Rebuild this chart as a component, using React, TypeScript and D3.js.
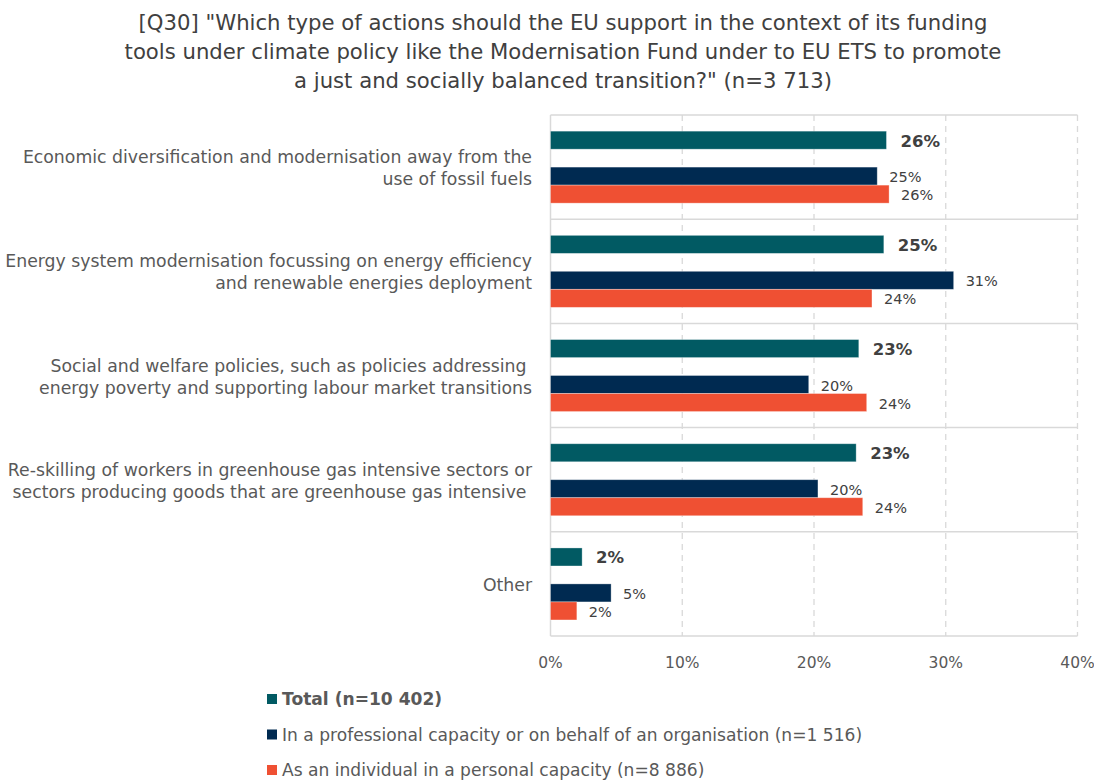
import React from "react";
import * as d3 from "d3";

const titleLines = [
  "[Q30] \"Which type of actions should the EU support in the context of its funding",
  "tools under climate policy like the Modernisation Fund under to EU ETS to promote",
  "a just and socially balanced transition?\" (n=3 713)",
];

const categories = ["econ", "energy", "social", "reskill", "other"];
const categoryLabels = [
  ["Economic diversification and modernisation away from the", "use of fossil fuels"],
  ["Energy system modernisation focussing on energy efficiency", "and renewable energies deployment"],
  ["Social and welfare policies, such as policies addressing\u00A0", "energy poverty and supporting labour market transitions"],
  ["Re-skilling of workers in greenhouse gas intensive sectors or", "sectors producing goods that are greenhouse gas intensive\u00A0"],
  ["Other"],
];

const totalValues = [25.5, 25.3, 23.4, 23.2, 2.4];
const professionalValues = [24.8, 30.6, 19.6, 20.3, 4.6];
const individualValues = [25.7, 24.4, 24.0, 23.7, 2.0];

const xTicks = [0, 10, 20, 30, 40];

const seriesNames = [
  "Total (n=10 402)",
  "In a professional capacity or on behalf of an organisation (n=1 516)",
  "As an individual in a personal capacity (n=8 886)",
];
const seriesColors = ["#015A63", "#002A51", "#EF5033"];

const FONT = "'DejaVu Sans', sans-serif";

export default function App() {
  const W = 1094;
  const H = 781;
  const x = d3.scaleLinear().domain([0, 40]).range([550.5, 1077.5]);
  const y = d3.scaleBand().domain(categories).range([115, 636]).padding(0);
  const bw = y.bandwidth();
  const barH = bw * 0.173;
  const totalOff = bw * 0.155;
  const profOff = bw * 0.5;
  const indOff = profOff + barH;

  return (
    <svg
      width={W}
      height={H}
      style={{ position: "absolute", left: 0, top: 0, background: "#fff" }}
      fontFamily={FONT}
    >
      {/* title */}
      {titleLines.map((t, i) => (
        <text
          key={i}
          x={563}
          y={22 + i * 29}
          textAnchor="middle"
          dominantBaseline="central"
          fontSize={21.2}
          fill="#404040"
        >
          {t}
        </text>
      ))}

      {/* grid */}
      {xTicks.slice(1).map((t) => (
        <line
          key={t}
          x1={x(t)}
          x2={x(t)}
          y1={115}
          y2={636}
          stroke="#d9d9d9"
          strokeWidth={1.3}
          strokeDasharray="6,5"
        />
      ))}
      {d3.range(categories.length + 1).map((i) => {
        const yy = i < categories.length ? (y(categories[i]) as number) : 636;
        return (
          <line key={i} x1={550.5} x2={1077.5} y1={yy} y2={yy} stroke="#d9d9d9" strokeWidth={1.5} />
        );
      })}
      <line x1={550.5} x2={550.5} y1={115} y2={636} stroke="#d9d9d9" strokeWidth={1.5} />

      {/* bars */}
      {categories.map((c, i) => {
        const y0 = y(c) as number;
        const rows = [
          { v: totalValues[i], off: totalOff, col: seriesColors[0], bold: true },
          { v: professionalValues[i], off: profOff, col: seriesColors[1], bold: false },
          { v: individualValues[i], off: indOff, col: seriesColors[2], bold: false },
        ];
        return (
          <g key={c}>
            {rows.map((r, j) => (
              <g key={j}>
                <rect
                  x={x(0)}
                  y={y0 + r.off}
                  width={x(r.v) - x(0)}
                  height={barH}
                  fill={r.col}
                  stroke="#ffffff"
                  strokeOpacity={0.4}
                  strokeWidth={0.8}
                />
                <text
                  x={x(r.v) + (r.bold ? 14 : 12)}
                  y={y0 + r.off + barH / 2 + 1}
                  dominantBaseline="central"
                  fontSize={r.bold ? 16.5 : 14.5}
                  fontWeight={r.bold ? 700 : 400}
                  fill="#404040"
                >
                  {Math.round(r.v) + "%"}
                </text>
              </g>
            ))}
          </g>
        );
      })}

      {/* category labels */}
      {categories.map((c, i) => {
        const lines = categoryLabels[i];
        const cy = (y(c) as number) + bw / 2 + 1;
        const lh = 22;
        return (
          <text
            key={c}
            textAnchor="end"
            fontSize={17.3}
            fill="#595959"
            style={{ whiteSpace: "pre" }}
          >
            {lines.map((l, k) => (
              <tspan
                key={k}
                x={532}
                y={cy - ((lines.length - 1) * lh) / 2 + k * lh}
                dominantBaseline="central"
              >
                {l}
              </tspan>
            ))}
          </text>
        );
      })}

      {/* x tick labels */}
      {xTicks.map((t) => (
        <text
          key={t}
          x={x(t)}
          y={663}
          textAnchor="middle"
          dominantBaseline="central"
          fontSize={15.5}
          fill="#595959"
        >
          {t + "%"}
        </text>
      ))}

      {/* legend */}
      {seriesNames.map((s, i) => (
        <g key={s} transform={`translate(267, ${699 + i * 35.5})`}>
          <rect x={0} y={-5} width={10} height={10} fill={seriesColors[i]} />
          <text
            x={15}
            y={0}
            dominantBaseline="central"
            fontSize={17.1}
            fontWeight={i === 0 ? 700 : 400}
            fill="#595959"
          >
            {s}
          </text>
        </g>
      ))}
    </svg>
  );
}
